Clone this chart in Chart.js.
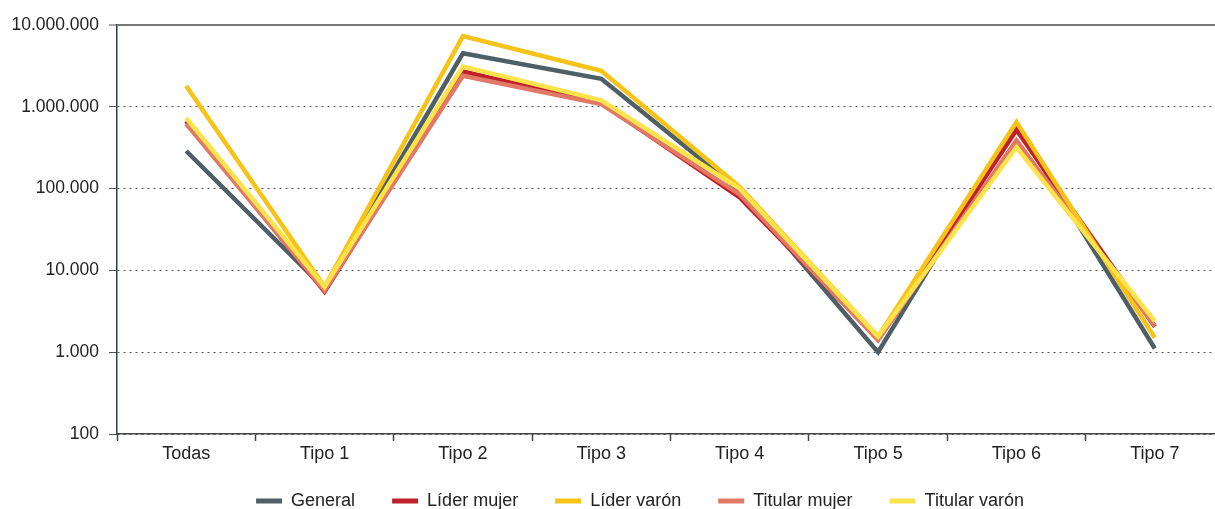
<!DOCTYPE html>
<html>
<head>
<meta charset="utf-8">
<script src="https://cdn.jsdelivr.net/npm/chart.js@4"></script>
<style>
  html, body { margin: 0; padding: 0; background: #fff; overflow: hidden; }
  #wrap { width: 1215px; height: 509px; overflow: hidden; }
</style>
</head>
<body>
<div id="wrap"><canvas id="myChart" width="1280" height="509"></canvas></div>
<script>
const categories = ["Todas", "Tipo 1", "Tipo 2", "Tipo 3", "Tipo 4", "Tipo 5", "Tipo 6", "Tipo 7"];
const yTicks = [100, 1000, 10000, 100000, 1000000, 10000000];

const general      = [288000, 6000, 4500000, 2200000, 95000, 1000, 600000, 1110];
const liderMujer   = [670000, 5500, 2700000, 1120000, 78000, 1450, 520000, 2050];
const liderVaron   = [1800000, 6300, 7300000, 2750000, 105000, 1550, 650000, 1500];
const titularMujer = [620000, 5700, 2400000, 1080000, 85000, 1400, 390000, 2100];
const titularVaron = [730000, 6300, 3100000, 1200000, 100000, 1550, 320000, 2400];

const FONT = "'Liberation Sans', Arial, sans-serif";

// thousands with dots, like 10.000.000
function fmt(v) {
  return String(v).replace(/\B(?=(\d{3})+(?!\d))/g, ".");
}

function line(label, data, color, order) {
  return {
    label: label,
    data: data,
    borderColor: color,
    backgroundColor: color,
    borderWidth: 4.5,
    pointRadius: 0,
    tension: 0,
    fill: false,
    order: order
  };
}

// legend: keep its box small in the layout, then move it where the row should sit
const legendFix = {
  id: "legendFix",
  beforeLayout(chart) {
    const lg = chart.legend;
    if (lg && !lg._patched) {
      const fit = lg.fit;
      lg.fit = function () {
        fit.call(this);
        this.height = 45;
      };
      lg._patched = true;
    }
  },
  afterLayout(chart) {
    const lg = chart.legend;
    if (lg) {
      lg.top = 455;
      lg.bottom = 509;
      lg.left += 28;
      lg.right += 28;
    }
  }
};

const ctx = document.getElementById("myChart");
new Chart(ctx, {
  type: "line",
  data: {
    labels: categories,
    datasets: [
      line("General", general, "#4f5f66", 5),
      line("Líder mujer", liderMujer, "#c0202a", 4),
      line("Líder varón", liderVaron, "#f7c316", 2),
      line("Titular mujer", titularMujer, "#e27866", 3),
      line("Titular varón", titularVaron, "#fde34a", 1)
    ]
  },
  options: {
    responsive: false,
    animation: false,
    layout: { padding: { top: 25, right: 56, left: 0, bottom: 0 } },
    plugins: {
      tooltip: { enabled: false },
      legend: {
        position: "bottom",
        labels: {
          font: { family: FONT, size: 18 },
          color: "#222",
          boxWidth: 26,
          boxHeight: 5,
          padding: 37,
          useBorderRadius: true,
          borderRadius: 2.5,
          sort: (a, b) => a.datasetIndex - b.datasetIndex,
          generateLabels(chart) {
            return chart.data.datasets.map((ds, i) => ({
              text: ds.label,
              fillStyle: ds.borderColor,
              strokeStyle: ds.borderColor,
              lineWidth: 0,
              hidden: false,
              datasetIndex: i,
              fontColor: "#222"
            }));
          }
        }
      }
    },
    scales: {
      x: {
        type: "category",
        offset: true,
        afterFit(s) { s.height = 30; },
        grid: {
          offset: true,
          drawOnChartArea: false,
          drawTicks: true,
          tickLength: 7,
          color: "#444",
          tickWidth: 1.5
        },
        border: { color: "#444", width: 1.5 },
        ticks: {
          padding: 2,
          color: "#222",
          font: { family: FONT, size: 18 },
          maxRotation: 0
        }
      },
      y: {
        type: "logarithmic",
        min: 100,
        max: 10000000,
        afterFit(s) { s.width = 117; },
        afterBuildTicks(s) {
          s.ticks = yTicks.map(v => ({ value: v }));
        },
        grid: {
          drawTicks: true,
          tickLength: 8,
          color: c => (c.tick && c.tick.value === 10000000 ? "#777" : "#555"),
          lineWidth: c => (c.tick && c.tick.value === 10000000 ? 2 : 1),
          tickColor: "#555",
          tickWidth: 1,
          tickBorderDash: []
        },
        border: {
          color: "#2e3f4a",
          width: 1.5,
          dash: c => (c.tick && c.tick.value === 10000000 ? [] : [2, 4])
        },
        ticks: {
          padding: 10,
          color: "#222",
          font: { family: FONT, size: 17.5 },
          callback: v => fmt(v)
        }
      }
    }
  },
  plugins: [legendFix]
});
</script>
</body>
</html>
